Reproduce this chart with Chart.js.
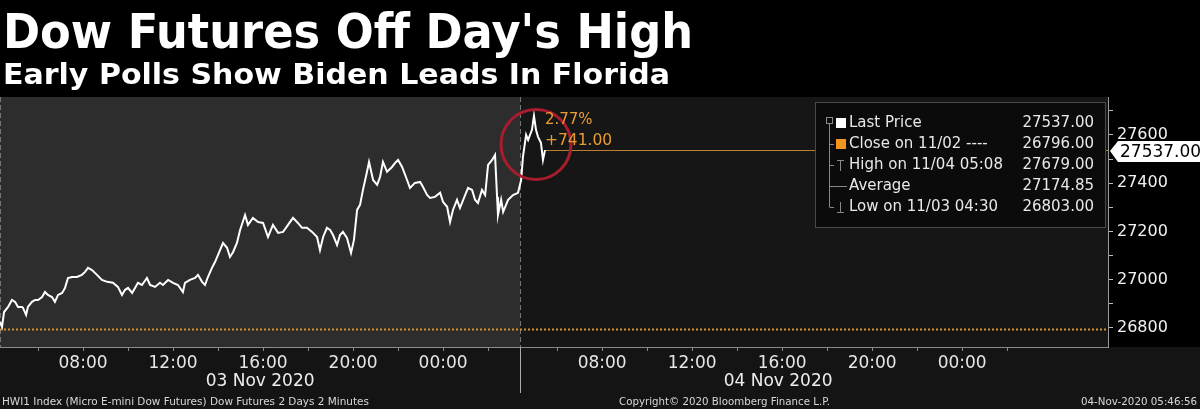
<!DOCTYPE html>
<html>
<head>
<meta charset="utf-8">
<script src="https://cdn.jsdelivr.net/npm/chart.js@4"></script>
<style>
  html, body { margin: 0; padding: 0; background: #000; }
  canvas { display: block; }
</style>
</head>
<body>
<canvas id="futChart" width="1200" height="409"></canvas>
<script>
// Dow futures, 2 days of 2 minute bars
// time = hours along the (trading-time) axis, 0 at the left edge
const times = [
  0.00, 0.09, 0.18, 0.36, 0.53, 0.67, 0.80, 0.98, 1.02, 1.16,
  1.24, 1.42, 1.56, 1.69, 1.87, 2.00, 2.13, 2.31, 2.44, 2.58,
  2.76, 2.89, 3.02, 3.20, 3.42, 3.64, 3.78, 3.91, 4.09, 4.31,
  4.53, 4.76, 5.02, 5.24, 5.42, 5.56, 5.69, 5.87, 6.00, 6.13,
  6.31, 6.53, 6.67, 6.89, 7.11, 7.24, 7.47, 7.69, 7.91, 8.13,
  8.22, 8.44, 8.67, 8.80, 8.98, 9.11, 9.24, 9.42, 9.56, 9.69,
  9.91, 10.09, 10.22, 10.36, 10.53, 10.67, 10.89, 11.02, 11.24, 11.47,
  11.69, 11.91, 12.13, 12.36, 12.58, 12.80, 13.02, 13.24, 13.42, 13.64,
  13.87, 14.09, 14.22, 14.36, 14.53, 14.67, 14.80, 14.98, 15.11, 15.24,
  15.42, 15.60, 15.73, 15.87, 16.00, 16.13, 16.31, 16.40, 16.58, 16.76,
  16.89, 17.02, 17.20, 17.42, 17.56, 17.69, 17.87, 18.09, 18.22, 18.44,
  18.67, 18.80, 18.98, 19.11, 19.33, 19.56, 19.69, 19.87, 20.00, 20.13,
  20.31, 20.44, 20.62, 20.80, 20.98, 21.11, 21.24, 21.42, 21.56, 21.69,
  21.87, 22.00, 22.09, 22.13, 22.27, 22.36, 22.58, 22.80, 23.02, 23.16,
  23.24, 23.38, 23.47, 23.64, 23.73, 23.82, 23.91, 24.04, 24.13, 24.22
];
const prices = [
  26825, 26804, 26866, 26887, 26916, 26908, 26887, 26887, 26883, 26854,
  26887, 26908, 26916, 26916, 26928, 26949, 26937, 26928, 26908, 26937,
  26945, 26966, 27007, 27011, 27011, 27020, 27032, 27049, 27040, 27020,
  26999, 26991, 26987, 26970, 26937, 26958, 26966, 26945, 26966, 26987,
  26978, 27007, 26978, 26970, 26987, 26978, 26999, 26987, 26978, 26949,
  26987, 26999, 27007, 27020, 26991, 26978, 27011, 27049, 27074, 27103,
  27152, 27132, 27094, 27115, 27152, 27206, 27268, 27227, 27256, 27239,
  27235, 27177, 27227, 27194, 27198, 27227, 27256, 27235, 27215, 27215,
  27198, 27177, 27123, 27177, 27215, 27206, 27185, 27144, 27185, 27198,
  27173, 27111, 27165, 27289, 27310, 27372, 27447, 27488, 27413, 27393,
  27426, 27488, 27447, 27467, 27484, 27496, 27467, 27413, 27380, 27401,
  27405, 27384, 27351, 27339, 27343, 27360, 27322, 27302, 27239, 27289,
  27331, 27297, 27339, 27380, 27372, 27331, 27318, 27372, 27351, 27476,
  27496, 27517, 27343, 27268, 27331, 27281, 27331, 27351, 27360, 27413,
  27509, 27600, 27579, 27621, 27679, 27621, 27592, 27567, 27496, 27537
];

const lastPrice = 27537;
const prevClose = 26796;
const pctChange = '2.77%';
const netChange = '+741.00';

// x axis (trading-time hours)
const xTickPos = [1.69, 3.69, 5.69, 7.69, 9.69, 11.69, 13.69, 15.69, 17.69, 19.69, 21.69,
                  24.76, 26.76, 28.76, 30.76, 32.76, 34.76, 36.76, 38.76, 40.76, 42.76, 44.76];
const xTickLabels = ['', '08:00', '', '12:00', '', '16:00', '', '20:00', '', '00:00', '',
                     '', '08:00', '', '12:00', '', '16:00', '', '20:00', '', '00:00', ''];
const sessionBreak = 23.11;
const dateLabels = ['03 Nov 2020', '04 Nov 2020'];
const dateCenters = [11.56, 34.58];
const xMax = 49.24;

// y axis
const yTicks = [26800, 26900, 27000, 27100, 27200, 27300, 27400, 27500, 27600, 27700];
const yMin = 26721, yMax = 27757;

// legend box
const legendLabels = ['Last Price', 'Close on 11/02 ----', 'High on 11/04 05:08', 'Average', 'Low on 11/03 04:30'];
const legendValues = ['27537.00', '26796.00', '27679.00', '27174.85', '26803.00'];

const title = "Dow Futures Off Day's High";
const subtitle = 'Early Polls Show Biden Leads In Florida';
const footLeft = 'HWI1 Index (Micro E-mini Dow Futures) Dow Futures 2 Days 2 Minutes';
const footMid = 'Copyright\u00a9 2020 Bloomberg Finance L.P.';
const footRight = '04-Nov-2020 05:46:56';

const FONT = '"DejaVu Sans", Tahoma, sans-serif';
const ORANGE = '#e89c32';

function fitText(ctx, text, x, y, font, width, align) {
  ctx.font = font;
  const w = ctx.measureText(text).width;
  const s = width / w;
  ctx.save();
  ctx.translate(align === 'right' ? x - width : x, y);
  ctx.scale(s, 1);
  ctx.textAlign = 'left';
  ctx.fillText(text, 0, 0);
  ctx.restore();
}

const backdrop = {
  id: 'backdrop',
  beforeDraw(chart) {
    const { ctx, chartArea: a, scales } = chart;
    const brk = scales.x.getPixelForValue(sessionBreak);
    ctx.save();
    ctx.fillStyle = '#000';
    ctx.fillRect(0, 0, chart.width, chart.height);
    ctx.fillStyle = '#141414';
    ctx.fillRect(0, a.bottom, chart.width, chart.height - a.bottom);
    ctx.fillStyle = '#161616';
    ctx.fillRect(a.left, a.top, a.right - a.left, a.bottom - a.top);
    ctx.fillStyle = '#2d2d2d';
    ctx.fillRect(a.left, a.top, brk - a.left, a.bottom - a.top);
    ctx.restore();
  },
  beforeDatasetsDraw(chart) {
    const { ctx, chartArea: a, scales } = chart;
    const brk = scales.x.getPixelForValue(sessionBreak);
    ctx.save();
    // session dividers
    ctx.strokeStyle = '#777';
    ctx.lineWidth = 1;
    ctx.setLineDash([5, 3]);
    [a.left + 0.5, Math.round(brk) + 0.5].forEach(px => {
      ctx.beginPath(); ctx.moveTo(px, a.top); ctx.lineTo(px, a.bottom); ctx.stroke();
    });
    // previous close, dotted
    const yc = Math.round(scales.y.getPixelForValue(prevClose)) + 0.5;
    ctx.strokeStyle = '#d4912c';
    ctx.lineWidth = 2;
    ctx.setLineDash([2, 2]);
    ctx.beginPath(); ctx.moveTo(a.left, yc); ctx.lineTo(a.right, yc); ctx.stroke();
    // last price line
    const yl = Math.round(scales.y.getPixelForValue(lastPrice)) + 0.5;
    const xl = scales.x.getPixelForValue(times[times.length - 1]);
    ctx.setLineDash([]);
    ctx.lineWidth = 1;
    ctx.strokeStyle = '#b97f34';
    ctx.beginPath(); ctx.moveTo(xl, yl); ctx.lineTo(a.right, yl); ctx.stroke();
    ctx.restore();
  },
  afterDraw(chart) {
    const { ctx, chartArea: a, scales } = chart;
    const x = scales.x, y = scales.y;
    ctx.save();

    // circle round the spike
    const hiIdx = prices.indexOf(Math.max(...prices));
    const cx = x.getPixelForValue(times[hiIdx]) + 2;
    const cy = y.getPixelForValue(27560);
    ctx.strokeStyle = '#a81d2e';
    ctx.lineWidth = 3;
    ctx.beginPath(); ctx.arc(cx, cy, 35, 0, Math.PI * 2); ctx.stroke();

    // change annotation
    ctx.fillStyle = ORANGE;
    ctx.textBaseline = 'middle';
    ctx.font = '15px ' + FONT;
    ctx.fillText(pctChange, cx + 9, 120);
    ctx.font = '15.5px ' + FONT;
    ctx.fillText(netChange, cx + 9, 141);

    // legend box
    ctx.fillStyle = '#0b0b0b';
    ctx.strokeStyle = '#4a4a4a';
    ctx.lineWidth = 1;
    ctx.fillRect(815.5, 102.5, 290, 125);
    ctx.strokeRect(815.5, 102.5, 290, 125);
    const rowY = [123, 144, 165, 186, 207];
    ctx.strokeStyle = '#888';
    ctx.beginPath();
    ctx.moveTo(829.5, 124); ctx.lineTo(829.5, 207);
    rowY.slice(1).forEach(ry => { ctx.moveTo(829.5, ry + 0.5); ctx.lineTo(834, ry + 0.5); });
    ctx.stroke();
    ctx.strokeRect(826.5, 117.5, 6, 6);
    ctx.beginPath();
    ctx.moveTo(840.5, 160); ctx.lineTo(840.5, 171); ctx.moveTo(837, 160.5); ctx.lineTo(844, 160.5);
    ctx.moveTo(834, 186.5); ctx.lineTo(847, 186.5);
    ctx.moveTo(840.5, 202); ctx.lineTo(840.5, 213); ctx.moveTo(837, 212.5); ctx.lineTo(844, 212.5);
    ctx.stroke();
    ctx.fillStyle = '#fff';
    ctx.fillRect(836, 118, 10, 10);
    ctx.fillStyle = '#f0961e';
    ctx.fillRect(836, 139, 10, 10);
    ctx.fillStyle = '#e8e8e8';
    ctx.font = '15px ' + FONT;
    legendLabels.forEach((t, i) => {
      ctx.textAlign = 'left';
      ctx.fillText(t, 849, rowY[i]);
      ctx.textAlign = 'right';
      ctx.fillText(legendValues[i], 1094, rowY[i]);
    });

    // last price tag on the axis
    const yl = y.getPixelForValue(lastPrice);
    ctx.fillStyle = '#fff';
    ctx.beginPath();
    ctx.moveTo(1110, yl + 1); ctx.lineTo(1118, yl - 9); ctx.lineTo(1200, yl - 9);
    ctx.lineTo(1200, yl + 12); ctx.lineTo(1118, yl + 12); ctx.closePath(); ctx.fill();
    ctx.fillStyle = '#000';
    ctx.textAlign = 'left';
    ctx.font = '17px ' + FONT;
    ctx.fillText(lastPrice.toFixed(2), 1120, yl + 2);

    // session divider in axis area and the dates
    const brk = Math.round(x.getPixelForValue(sessionBreak)) + 0.5;
    ctx.strokeStyle = '#aaa';
    ctx.beginPath(); ctx.moveTo(brk, a.bottom); ctx.lineTo(brk, 393); ctx.stroke();
    ctx.fillStyle = '#eee';
    ctx.textAlign = 'center';
    ctx.font = '17px ' + FONT;
    dateLabels.forEach((d, i) => ctx.fillText(d, x.getPixelForValue(dateCenters[i]), 382));

    // titles
    ctx.fillStyle = '#fff';
    ctx.textBaseline = 'alphabetic';
    fitText(ctx, title, 3, 48, 'bold 48px ' + FONT, 690);
    fitText(ctx, subtitle, 3, 84, 'bold 29px ' + FONT, 667);

    // footer
    ctx.fillStyle = '#d8d8d8';
    fitText(ctx, footLeft, 2, 405, '10px ' + FONT, 367);
    fitText(ctx, footMid, 619, 405, '10px ' + FONT, 211);
    fitText(ctx, footRight, 1197, 405, '10px ' + FONT, 116, 'right');
    ctx.restore();
  }
};

const ctx = document.getElementById('futChart').getContext('2d');
const futChart = new Chart(ctx, {
  type: 'line',
  data: {
    datasets: [{
      label: 'Last Price',
      data: times.map((t, i) => ({ x: t, y: prices[i] })),
      borderColor: '#ffffff',
      borderWidth: 2,
      pointRadius: 0,
      tension: 0
    }]
  },
  options: {
    responsive: false,
    animation: false,
    devicePixelRatio: 1,
    layout: { padding: { top: 97, left: 0, right: 0, bottom: 37 } },
    plugins: { legend: { display: false }, tooltip: { enabled: false } },
    scales: {
      x: {
        type: 'linear',
        min: 0,
        max: xMax,
        afterBuildTicks: s => { s.ticks = xTickPos.map(v => ({ value: v })); },
        afterFit: s => { s.height = 25; },
        ticks: {
          autoSkip: false,
          maxRotation: 0,
          padding: 2,
          color: '#e6e6e6',
          font: { family: FONT, size: 17 },
          callback: (v, i) => xTickLabels[i]
        },
        grid: { drawOnChartArea: false, tickLength: 4, color: '#8a8a8a' },
        border: { color: '#8a8a8a' }
      },
      y: {
        position: 'right',
        min: yMin,
        max: yMax,
        afterBuildTicks: s => { s.ticks = yTicks.map(v => ({ value: v })); },
        afterFit: s => { s.width = 92; },
        ticks: {
          padding: 4,
          color: '#f2f2f2',
          font: { family: FONT, size: 16 },
          callback: v => (v % 200 === 0 ? v : '')
        },
        grid: { drawOnChartArea: false, tickLength: 5, color: '#bbbbbb' },
        border: { color: '#9a9a9a' }
      }
    }
  },
  plugins: [backdrop]
});
</script>
</body>
</html>
